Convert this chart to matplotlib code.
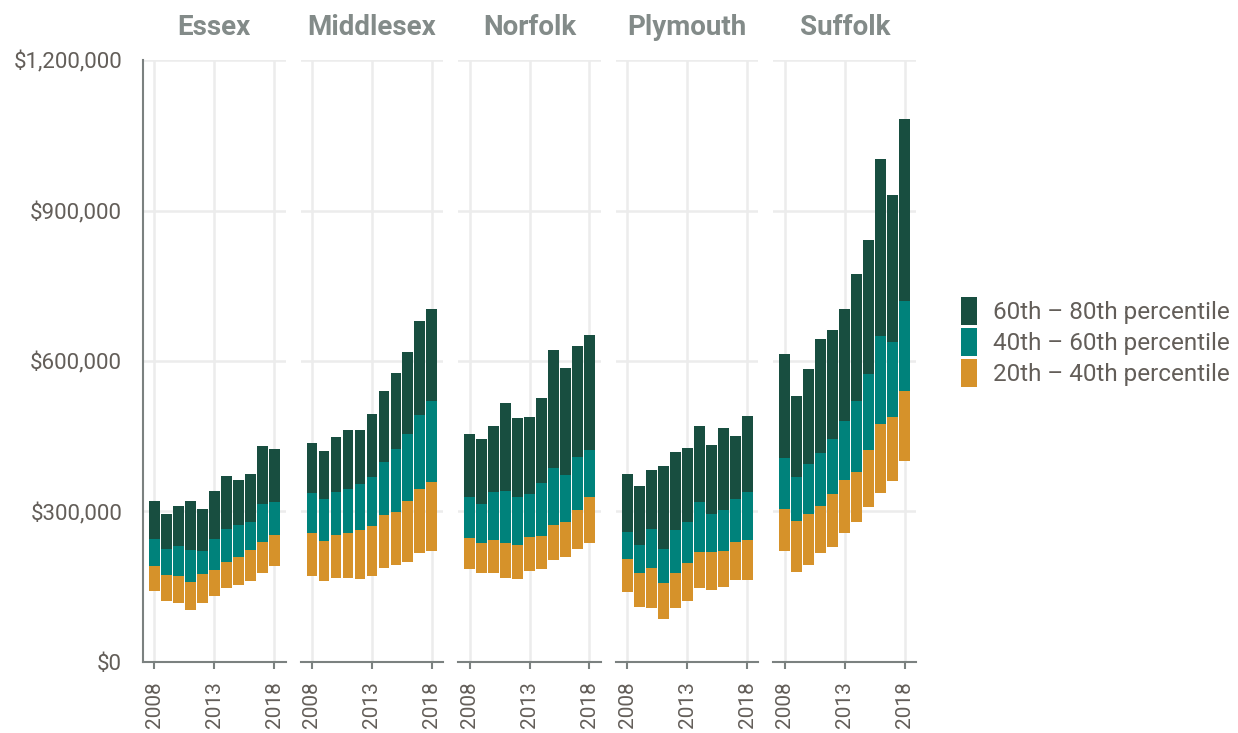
import matplotlib
matplotlib.use("Agg")
import matplotlib.pyplot as plt
from matplotlib.ticker import FuncFormatter
from matplotlib.patches import Patch

plt.rcParams["font.family"] = ["Roboto", "DejaVu Sans"]

# --- data (home values, $ thousands) ---
years = list(range(2008, 2019))
counties = ["Essex", "Middlesex", "Norfolk", "Plymouth", "Suffolk"]

essex_p20 = [142, 122, 118, 104, 118, 132, 148, 154, 162, 178, 192]
essex_p40 = [192, 174, 172, 160, 176, 184, 200, 210, 224, 240, 254]
essex_p60 = [246, 226, 232, 224, 222, 246, 266, 272, 278, 314, 318]
essex_p80 = [320, 294, 310, 320, 304, 340, 370, 362, 374, 430, 424]

middlesex_p20 = [172, 162, 168, 168, 166, 172, 188, 194, 200, 218, 222]
middlesex_p40 = [258, 242, 254, 258, 264, 270, 292, 298, 320, 344, 358]
middlesex_p60 = [336, 324, 338, 344, 354, 368, 398, 424, 454, 492, 520]
middlesex_p80 = [436, 420, 448, 462, 462, 494, 540, 576, 618, 680, 704]

norfolk_p20 = [186, 178, 178, 168, 166, 182, 186, 204, 210, 226, 238]
norfolk_p40 = [248, 238, 244, 238, 234, 250, 252, 272, 278, 302, 328]
norfolk_p60 = [328, 314, 338, 340, 328, 334, 356, 386, 372, 408, 422]
norfolk_p80 = [454, 444, 470, 516, 486, 488, 526, 622, 586, 630, 652]

plymouth_p20 = [140, 110, 108, 86, 108, 122, 148, 144, 150, 164, 164]
plymouth_p40 = [206, 178, 188, 158, 178, 198, 220, 220, 222, 240, 244]
plymouth_p60 = [260, 234, 266, 226, 264, 278, 318, 294, 302, 324, 338]
plymouth_p80 = [374, 350, 382, 390, 418, 426, 470, 432, 466, 450, 490]

suffolk_p20 = [222, 180, 194, 218, 230, 258, 278, 308, 336, 360, 400]
suffolk_p40 = [304, 280, 294, 310, 334, 362, 378, 422, 474, 488, 540]
suffolk_p60 = [406, 368, 394, 416, 444, 480, 520, 574, 650, 638, 720]
suffolk_p80 = [614, 530, 584, 644, 662, 704, 774, 842, 1002, 932, 1082]

series = {
    "Essex": (essex_p20, essex_p40, essex_p60, essex_p80),
    "Middlesex": (middlesex_p20, middlesex_p40, middlesex_p60, middlesex_p80),
    "Norfolk": (norfolk_p20, norfolk_p40, norfolk_p60, norfolk_p80),
    "Plymouth": (plymouth_p20, plymouth_p40, plymouth_p60, plymouth_p80),
    "Suffolk": (suffolk_p20, suffolk_p40, suffolk_p60, suffolk_p80),
}

band_labels = ["20th – 40th percentile", "40th – 60th percentile", "60th – 80th percentile"]
band_colors = ["#d6922a", "#00827b", "#184e40"]

grid_c = "#ececec"
spine_c = "#7b8180"
text_c = "#635e59"
title_c = "#838b89"

fig, axes = plt.subplots(1, 5, figsize=(12.38, 7.33), dpi=100, sharey=True)
fig.subplots_adjust(left=0.1155, right=0.740, top=0.918, bottom=0.097, wspace=0.105)

for ax, name in zip(axes, counties):
    p = [[v * 1000 for v in s] for s in series[name]]
    # floating stacked bars: each band spans from one percentile to the next
    for i in range(3):
        heights = [hi - lo for lo, hi in zip(p[i], p[i + 1])]
        ax.bar(years, heights, bottom=p[i], width=0.9, color=band_colors[i], linewidth=0)

    ax.set_xlim(2007.05, 2018.95)
    ax.set_ylim(0, 1200000)
    ax.set_xticks([2008, 2013, 2018])
    ax.set_yticks([0, 300000, 600000, 900000, 1200000])
    ax.set_axisbelow(True)
    ax.grid(True, color=grid_c, linewidth=1.8)

    for side in ["top", "right", "left"]:
        ax.spines[side].set_visible(False)
    ax.spines["bottom"].set_color(spine_c)
    ax.spines["bottom"].set_linewidth(1.5)

    ax.tick_params(axis="x", length=5, width=1.5, color=spine_c, labelcolor=text_c,
                   labelsize=15, labelrotation=90, pad=9)
    ax.tick_params(axis="y", length=0, labelcolor=text_c, labelsize=16, pad=15)

    ax.set_title(name, fontsize=20, fontweight="bold", color=title_c, pad=18)

axes[0].spines["left"].set_visible(True)
axes[0].spines["left"].set_color(spine_c)
axes[0].spines["left"].set_linewidth(1.5)
axes[0].yaxis.set_major_formatter(FuncFormatter(lambda v, _: f"${v:,.0f}"))

handles = [Patch(facecolor=c, linewidth=0) for c in band_colors[::-1]]
leg = fig.legend(handles, band_labels[::-1], loc="center left",
                 bbox_to_anchor=(961 / 1238, 1 - 342 / 733), frameon=False,
                 fontsize=17.5, handlelength=0.66, handleheight=1.44,
                 handletextpad=0.66, labelspacing=0.1, borderpad=0, borderaxespad=0)
for t in leg.get_texts():
    t.set_color(text_c)

fig.savefig("out.png", dpi=100)
